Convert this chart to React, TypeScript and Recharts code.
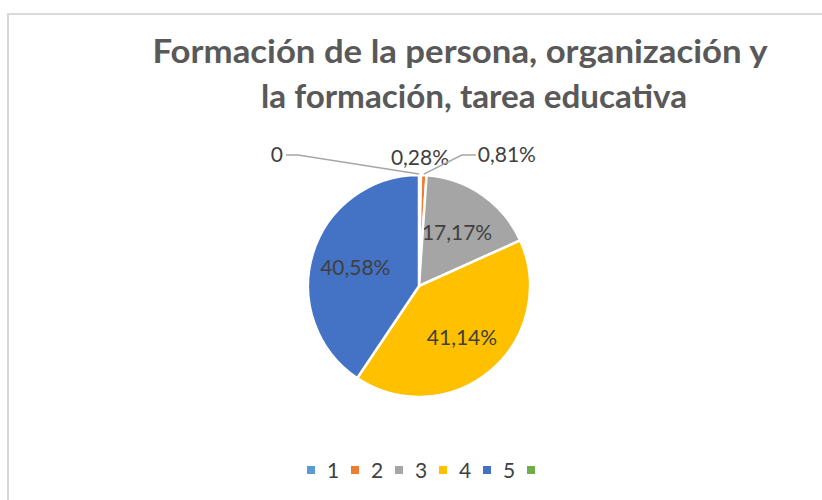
import React from 'react';
import { PieChart, Pie, Cell, Legend } from 'recharts';

const categories = ['1', '2', '3', '4', '5', ''];
const values = [0.28, 0.81, 17.17, 41.14, 40.58, 0];
const colors = ['#5B9BD5', '#ED7D31', '#A5A5A5', '#FFC000', '#4472C4', '#70AD47'];
const titleLines = ['Formación de la persona, organización y', 'la formación, tarea educativa'];

const data = categories.map((name, i) => ({ name, value: values[i] }));

const FONT = 'Lato, "Open Sans", sans-serif';
const TEXT = '#404040';

const fmt = (v: number) => (v === 0 ? '0' : v.toFixed(2).replace('.', ',') + '%');

const renderLabel = (props: any) => {
  const { cx, cy, midAngle, outerRadius, value, index } = props;
  const RAD = Math.PI / 180;
  const text = fmt(value);
  if (value >= 5) {
    const r = outerRadius * 0.6;
    const x = cx + r * Math.cos(-midAngle * RAD);
    const y = cy + r * Math.sin(-midAngle * RAD);
    return (
      <text key={`l${index}`} x={x} y={y} fill={TEXT} fontFamily={FONT} fontSize={21} textAnchor="middle" dominantBaseline="central">
        {text}
      </text>
    );
  }
  const ex = cx + (outerRadius + 1) * Math.cos(-midAngle * RAD);
  const ey = cy + (outerRadius + 1) * Math.sin(-midAngle * RAD);
  if (value === 0) {
    const kx = ex - 121;
    const ky = ey - 19;
    return (
      <g key={`l${index}`}>
        <polyline points={`${ex},${ey} ${kx},${ky} ${kx - 12},${ky}`} fill="none" stroke="#A6A6A6" strokeWidth={1.5} />
        <text x={kx - 15} y={ky - 2} fill={TEXT} fontFamily={FONT} fontSize={21} textAnchor="end" dominantBaseline="central">
          {text}
        </text>
      </g>
    );
  }
  if (value < 0.5) {
    return (
      <text key={`l${index}`} x={ex} y={ey - 18} fill={TEXT} fontFamily={FONT} fontSize={21} textAnchor="middle" dominantBaseline="central">
        {text}
      </text>
    );
  }
  const kx = ex + 38;
  const ky = ey - 19;
  return (
    <g key={`l${index}`}>
      <polyline points={`${ex},${ey} ${kx},${ky} ${kx + 14},${ky}`} fill="none" stroke="#A6A6A6" strokeWidth={1.5} />
      <text x={kx + 16} y={ky - 2} fill={TEXT} fontFamily={FONT} fontSize={21} textAnchor="start" dominantBaseline="central">
        {text}
      </text>
    </g>
  );
};

const renderLegend = () => (
  <div style={{ display: 'flex', justifyContent: 'flex-start', alignItems: 'center', fontFamily: FONT, fontSize: 21, color: TEXT }}>
    {categories.map((name, i) => (
      <div key={i} style={{ display: 'flex', alignItems: 'center', width: 44 }}>
        <span style={{ display: 'inline-block', width: 8, height: 8, background: colors[i], marginRight: 12 }} />
        <span>{name}</span>
      </div>
    ))}
  </div>
);

export default function App() {
  return (
    <div style={{ position: 'absolute', left: 0, top: 0, width: 822, height: 500, background: '#fff', overflow: 'hidden' }}>
      <div style={{ position: 'absolute', left: 7, top: 13, width: 830, height: 500, border: '2px solid #D9D9D9', boxSizing: 'border-box' }} />
      <svg width={822} height={120} style={{ position: 'absolute', left: 0, top: 0 }}>
        <text x={460} y={63} textAnchor="middle" fontFamily={FONT} fontWeight={700} fontSize={33} fill="#595959" textLength={615} lengthAdjust="spacingAndGlyphs">
          {titleLines[0]}
        </text>
        <text x={474} y={108} textAnchor="middle" fontFamily={FONT} fontWeight={700} fontSize={33} fill="#595959" textLength={426} lengthAdjust="spacingAndGlyphs">
          {titleLines[1]}
        </text>
      </svg>
      <div style={{ position: 'absolute', left: 0, top: 0 }}>
        <PieChart width={822} height={500} margin={{ top: 0, right: 0, bottom: 0, left: 0 }}>
          <Pie
            data={data}
            dataKey="value"
            nameKey="name"
            cx={419}
            cy={286}
            outerRadius={111}
            startAngle={90}
            endAngle={-270}
            stroke="#fff"
            strokeWidth={2.5}
            label={renderLabel}
            labelLine={false}
            isAnimationActive={false}
          >
            {data.map((d, i) => (
              <Cell key={i} fill={colors[i]} />
            ))}
          </Pie>
          <Legend
            content={renderLegend}
            wrapperStyle={{ position: 'absolute', left: 307, width: 300, top: 457 }}
          />
        </PieChart>
      </div>
    </div>
  );
}
